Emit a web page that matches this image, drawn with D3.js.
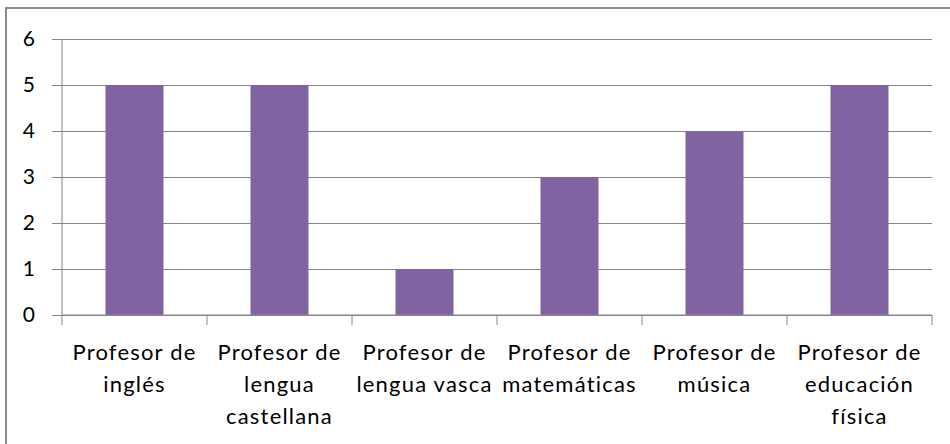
<!DOCTYPE html>
<html>
<head>
<meta charset="utf-8">
<script src="https://cdn.jsdelivr.net/npm/d3@7"></script>
<style>
	body { margin: 0; background: #fff; }
	svg text { font-family: Lato, "Open Sans", sans-serif; fill: #000; }
</style>
</head>
<body>
<div id="chart"></div>
<script>
"use strict";

var categories = [
	["Profesor de", "inglés"],
	["Profesor de", "lengua", "castellana"],
	["Profesor de", "lengua vasca"],
	["Profesor de", "matemáticas"],
	["Profesor de", "música"],
	["Profesor de", "educación", "física"]
];
var values = [5, 5, 1, 3, 4, 5];
var yTicks = [0, 1, 2, 3, 4, 5, 6];

//
// Setup Variables
//
var width = 950, height = 444;
var margin = { top: 39, right: 18, bottom: 129, left: 62 };
var innerW = width - margin.left - margin.right;
var innerH = height - margin.top - margin.bottom;
var gridColor = "#868686";

var svg = d3.select("#chart").append("svg")
	.attr("width", width)
	.attr("height", height);

// outer frame
svg.append("rect")
	.attr("x", 6).attr("y", 8)
	.attr("width", width + 10).attr("height", height + 10)
	.attr("fill", "none")
	.attr("stroke", "#8a8a8a")
	.attr("stroke-width", 2);

var g = svg.append("g")
	.attr("transform", "translate(" + margin.left + "," + margin.top + ")");

var x = d3.scaleBand()
	.domain(d3.range(categories.length))
	.range([0, innerW])
	.padding(0);

var y = d3.scaleLinear()
	.domain([0, 6])
	.range([innerH, 0]);

//
// Y-Axis with gridlines
//
var yAxis = d3.axisLeft(y)
	.tickValues(yTicks)
	.tickSize(-innerW)
	.tickSizeOuter(0)
	.tickPadding(27)
	.tickFormat(d3.format("d"));

var yg = g.append("g").attr("id", "y_axis").call(yAxis);
yg.select(".domain").remove();
yg.selectAll(".tick line")
	.attr("x1", -10)
	.attr("stroke", gridColor);
yg.selectAll(".tick text")
	.attr("font-size", 21)
	.attr("font-family", "Lato, sans-serif");

g.append("line")
	.attr("x1", 0).attr("x2", 0)
	.attr("y1", 0).attr("y2", innerH)
	.attr("stroke", gridColor);

//
// Bars
//
var barW = x.bandwidth() * 0.4;
g.append("g").attr("id", "bars")
	.selectAll(".bar")
	.data(values)
	.enter()
	.append("rect")
	.attr("class", "bar")
	.attr("x", function(d, i) { return x(i) + (x.bandwidth() - barW) / 2; })
	.attr("width", barW)
	.attr("y", function(d) { return y(d); })
	.attr("height", function(d) { return innerH - y(d); })
	.attr("fill", "#8064A2");

//
// X-Axis
//
var xg = g.append("g").attr("id", "x_axis")
	.attr("transform", "translate(0," + innerH + ")");

xg.append("line")
	.attr("x1", 0).attr("x2", innerW)
	.attr("stroke", gridColor);

xg.selectAll(".xtick")
	.data(d3.range(categories.length + 1))
	.enter()
	.append("line")
	.attr("class", "xtick")
	.attr("x1", function(i) { return i * x.step(); })
	.attr("x2", function(i) { return i * x.step(); })
	.attr("y1", 0).attr("y2", 10)
	.attr("stroke", gridColor);

xg.selectAll(".xlabel")
	.data(categories)
	.enter()
	.append("text")
	.attr("class", "xlabel")
	.attr("text-anchor", "middle")
	.attr("font-size", 22)
	.attr("letter-spacing", 1.2)
	.attr("transform", function(d, i) { return "translate(" + (x(i) + x.bandwidth() / 2) + ",0)"; })
	.selectAll("tspan")
	.data(function(d) { return d; })
	.enter()
	.append("tspan")
	.attr("x", 0)
	.attr("y", function(d, j) { return 45 + j * 32; })
	.text(function(d) { return d; });
</script>
</body>
</html>
